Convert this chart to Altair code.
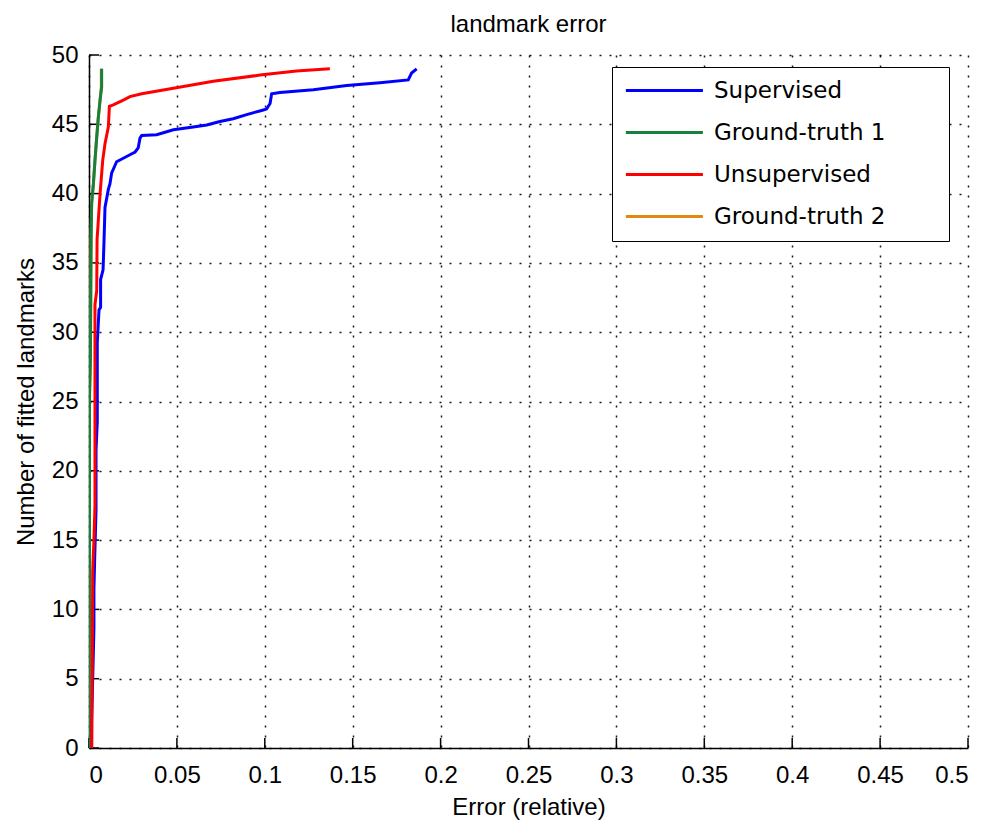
import altair as alt
import pandas as pd

# ---------------- data ----------------
series_names = ["Supervised", "Ground-truth 1", "Unsupervised", "Ground-truth 2"]
series_colors = ["#0000ff", "#17803d", "#ff0000", "#e08a10"]

sup_x = [0.0015, 0.0015, 0.0025, 0.0028, 0.0028, 0.0033, 0.0040, 0.0040, 0.0047, 0.0047,
         0.0057, 0.0066, 0.0066, 0.0080, 0.0085, 0.0091, 0.0110, 0.0119, 0.0129, 0.0157,
         0.0195, 0.0233, 0.0262, 0.0280, 0.0290, 0.0300, 0.0385, 0.0480, 0.0593, 0.0670,
         0.0745, 0.0820, 0.0897, 0.0982, 0.1010, 0.1030, 0.1039, 0.1086, 0.1276, 0.1466,
         0.1655, 0.1816, 0.1835, 0.1864]
sup_y = [0, 2, 7, 8.7, 11.4, 14, 17.2, 21.5, 23.5, 29.2,
         31.6, 31.8, 33.8, 34.5, 36.4, 39.0, 40.3, 40.7, 41.5, 42.3,
         42.55, 42.8, 43.0, 43.3, 44.0, 44.2, 44.25, 44.6, 44.8, 44.95,
         45.2, 45.4, 45.7, 46.0, 46.1, 46.5, 47.2, 47.3, 47.5, 47.8,
         48.0, 48.2, 48.7, 49.0]

gt1_x = [0.0, 0.0003, 0.0003, 0.0008, 0.0010, 0.0012, 0.0015, 0.0025, 0.0034, 0.0044,
         0.0053, 0.0063, 0.0072, 0.0072]
gt1_y = [0, 10, 25.6, 28, 33, 37, 39.3, 40.7, 42.4, 44.1,
         45.5, 46.75, 47.7, 49.0]

uns_x = [0.0015, 0.0018, 0.0021, 0.0028, 0.0034, 0.0034, 0.0044, 0.0046, 0.0063, 0.0078,
         0.0091, 0.0110, 0.0116, 0.0138, 0.0195, 0.0233, 0.0300, 0.0480, 0.0707, 0.0973,
         0.1180, 0.1370]
uns_y = [0, 5, 12.7, 15, 17.5, 32, 33, 36.7, 40.0, 42.4,
         43.6, 44.8, 46.3, 46.4, 46.75, 47.0, 47.2, 47.6, 48.1, 48.55,
         48.85, 49.0]

gt2_x = [0.0, 0.0003, 0.0003, 0.0008, 0.0010, 0.0012, 0.0015, 0.0025, 0.0034, 0.0044,
         0.0053, 0.0063, 0.0070, 0.0070]
gt2_y = [0, 10, 25.0, 28, 33, 37, 39.3, 40.7, 42.4, 44.1,
         45.5, 46.75, 47.7, 49.0]

x_ticks = [0, 0.05, 0.1, 0.15, 0.2, 0.25, 0.3, 0.35, 0.4, 0.45, 0.5]
y_ticks = [0, 5, 10, 15, 20, 25, 30, 35, 40, 45, 50]

rows = []
for name, xs_, ys_ in [("Supervised", sup_x, sup_y), ("Ground-truth 1", gt1_x, gt1_y),
                       ("Unsupervised", uns_x, uns_y), ("Ground-truth 2", gt2_x, gt2_y)]:
    for i, (a, b) in enumerate(zip(xs_, ys_)):
        rows.append({"series": name, "idx": i, "error": a, "count": b})
df = pd.DataFrame(rows)

# ---------------- chart ----------------
W, H = 879, 693
FONT = "Liberation Sans"

xscale = alt.Scale(domain=[0, 0.5], nice=False, zero=False)
yscale = alt.Scale(domain=[0, 50], nice=False)

xaxis = alt.Axis(values=x_ticks, format="~g", title="Error (relative)", grid=True,
                 gridDash=[2, 8], gridColor="black", gridWidth=1.5, gridOpacity=0.9,
                 tickSize=0, domainColor="black", domainWidth=1.5,
                 labelFont=FONT, labelFontSize=24, labelColor="black", labelPadding=15,
                 titleFont=FONT, titleFontSize=24, titleFontWeight="normal",
                 titleColor="black", titlePadding=8)
yaxis = alt.Axis(values=y_ticks, title="Number of fitted landmarks", grid=True,
                 gridDash=[2, 8], gridColor="black", gridWidth=1.5, gridOpacity=0.9,
                 tickSize=0, domainColor="black", domainWidth=1.5,
                 labelFont=FONT, labelFontSize=24, labelColor="black", labelPadding=11,
                 titleFont=FONT, titleFontSize=24, titleFontWeight="normal",
                 titleColor="black", titlePadding=13)

pad_chars = "\u2800" * 3
legend = alt.Legend(title=None, orient="none", legendX=523, legendY=12,
                    symbolType="M-1,0H7", symbolSize=371, symbolStrokeWidth=3,
                    labelFont="DejaVu Sans", labelFontSize=23, labelColor="black",
                    labelOffset=67, labelLimit=400, padding=12, rowPadding=18,
                    strokeColor="black", fillColor="white",
                    labelExpr="datum.label + '" + pad_chars + "'")

color = alt.Color("series:N", scale=alt.Scale(domain=series_names, range=series_colors),
                  legend=legend)

base = alt.Chart(df)


def line_layer(name):
    return base.transform_filter(alt.datum.series == name).mark_line(
        strokeWidth=3, clip=True
    ).encode(
        x=alt.X("error:Q", scale=xscale, axis=xaxis),
        y=alt.Y("count:Q", scale=yscale, axis=yaxis),
        color=color,
        order="idx:Q",
    )


xtick_layer = alt.Chart(pd.DataFrame({"t": x_ticks})).mark_rule(
    color="black", strokeWidth=1.5
).encode(x=alt.X("t:Q", scale=xscale, axis=xaxis), y=alt.value(H), y2=alt.value(H - 10))

ytick_layer = alt.Chart(pd.DataFrame({"v": y_ticks})).mark_rule(
    color="black", strokeWidth=1.5
).encode(y=alt.Y("v:Q", scale=yscale, axis=yaxis), x=alt.value(0), x2=alt.value(10))

chart = alt.layer(
    xtick_layer,
    ytick_layer,
    line_layer("Ground-truth 2"),
    line_layer("Supervised"),
    line_layer("Ground-truth 1"),
    line_layer("Unsupervised"),
).properties(
    width=W,
    height=H,
    title=alt.TitleParams("landmark error", font=FONT, fontSize=24, fontWeight="normal",
                          color="black", anchor="middle", offset=6),
    autosize=alt.AutoSizeParams(type="none"),
    padding={"left": 81, "top": 47, "right": 16, "bottom": 72},
    background="white",
).configure_view(stroke=None)

chart.save("out.html", embed_options={"renderer": "svg", "actions": False})
